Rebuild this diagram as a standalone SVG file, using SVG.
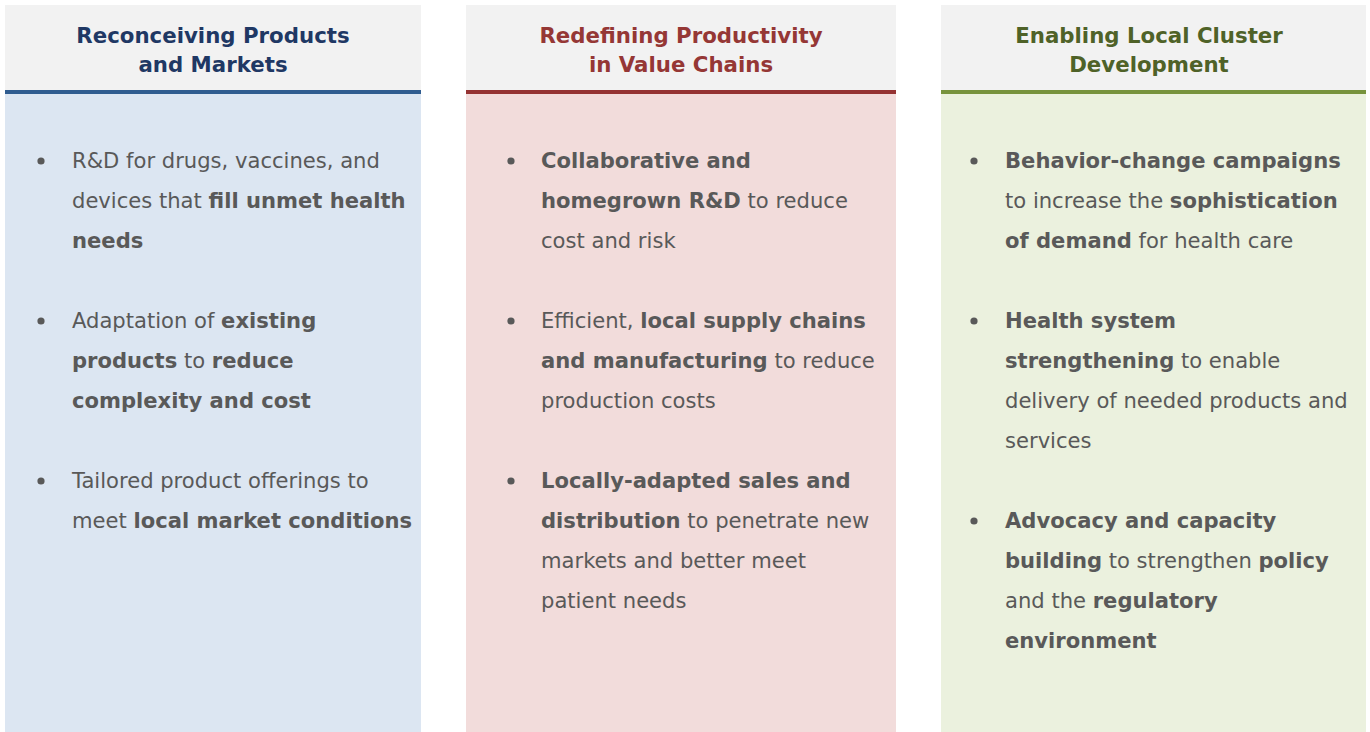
<svg xmlns="http://www.w3.org/2000/svg" width="1370" height="732" viewBox="0 0 1370 732">
<style>
.hdr{fill:#f2f2f2}
.ttl{font-family:"DejaVu Sans",Verdana,sans-serif;font-size:21.3px;font-weight:bold;text-anchor:middle}
.txt{font-family:"DejaVu Sans",Verdana,sans-serif;font-size:21.1px;fill:#595959}
.b{font-weight:bold}
.dot{fill:#595959}
</style>
<rect x="0" y="0" width="1370" height="732" fill="#ffffff"/>
<g id="col1">
<rect class="hdr" x="5" y="5" width="416" height="85"/>
<rect x="5" y="90" width="416" height="4" fill="#2f5c90"/>
<rect x="5" y="94" width="416" height="638" fill="#dce6f2"/>
<text class="ttl" fill="#1f3864"><tspan x="213" y="43">Reconceiving Products</tspan><tspan x="213" y="72">and Markets</tspan></text>
<circle class="dot" cx="41" cy="161" r="3.6"/>
<circle class="dot" cx="41" cy="321" r="3.6"/>
<circle class="dot" cx="41" cy="481" r="3.6"/>
<text class="txt"><tspan x="72" y="168">R&amp;D for drugs, vaccines, and</tspan><tspan x="72" y="208">devices that <tspan class="b">fill unmet health</tspan></tspan><tspan x="72" y="248" class="b">needs</tspan></text>
<text class="txt"><tspan x="72" y="328">Adaptation of <tspan class="b">existing</tspan></tspan><tspan x="72" y="368"><tspan class="b">products</tspan> to <tspan class="b">reduce</tspan></tspan><tspan x="72" y="408" class="b">complexity and cost</tspan></text>
<text class="txt"><tspan x="72" y="488">Tailored product offerings to</tspan><tspan x="72" y="528">meet <tspan class="b">local market conditions</tspan></tspan></text>
</g>
<g id="col2">
<rect class="hdr" x="466" y="5" width="430" height="85"/>
<rect x="466" y="90" width="430" height="4" fill="#953232"/>
<rect x="466" y="94" width="430" height="638" fill="#f2dcdb"/>
<text class="ttl" fill="#953735"><tspan x="681" y="43">Redefining Productivity</tspan><tspan x="681" y="72">in Value Chains</tspan></text>
<circle class="dot" cx="511" cy="161" r="3.6"/>
<circle class="dot" cx="511" cy="321" r="3.6"/>
<circle class="dot" cx="511" cy="481" r="3.6"/>
<text class="txt"><tspan x="541" y="168" class="b">Collaborative and</tspan><tspan x="541" y="208"><tspan class="b">homegrown R&amp;D</tspan> to reduce</tspan><tspan x="541" y="248">cost and risk</tspan></text>
<text class="txt"><tspan x="541" y="328">Efficient, <tspan class="b">local supply chains</tspan></tspan><tspan x="541" y="368"><tspan class="b">and manufacturing</tspan> to reduce</tspan><tspan x="541" y="408">production costs</tspan></text>
<text class="txt"><tspan x="541" y="488" class="b">Locally-adapted sales and</tspan><tspan x="541" y="528"><tspan class="b">distribution</tspan> to penetrate new</tspan><tspan x="541" y="568">markets and better meet</tspan><tspan x="541" y="608">patient needs</tspan></text>
</g>
<g id="col3">
<rect class="hdr" x="941" y="5" width="425" height="85"/>
<rect x="941" y="90" width="425" height="4" fill="#77933c"/>
<rect x="941" y="94" width="425" height="638" fill="#ebf1de"/>
<text class="ttl" fill="#4f6228"><tspan x="1149" y="43">Enabling Local Cluster</tspan><tspan x="1149" y="72">Development</tspan></text>
<circle class="dot" cx="974" cy="161" r="3.6"/>
<circle class="dot" cx="974" cy="321" r="3.6"/>
<circle class="dot" cx="974" cy="521" r="3.6"/>
<text class="txt"><tspan x="1005" y="168" class="b">Behavior-change campaigns</tspan><tspan x="1005" y="208">to increase the <tspan class="b">sophistication</tspan></tspan><tspan x="1005" y="248"><tspan class="b">of demand</tspan> for health care</tspan></text>
<text class="txt"><tspan x="1005" y="328" class="b">Health system</tspan><tspan x="1005" y="368"><tspan class="b">strengthening</tspan> to enable</tspan><tspan x="1005" y="408">delivery of needed products and</tspan><tspan x="1005" y="448">services</tspan></text>
<text class="txt"><tspan x="1005" y="528" class="b">Advocacy and capacity</tspan><tspan x="1005" y="568"><tspan class="b">building</tspan> to strengthen <tspan class="b">policy</tspan></tspan><tspan x="1005" y="608">and the <tspan class="b">regulatory</tspan></tspan><tspan x="1005" y="648" class="b">environment</tspan></text>
</g>
<g id="connectors"/>
</svg>
